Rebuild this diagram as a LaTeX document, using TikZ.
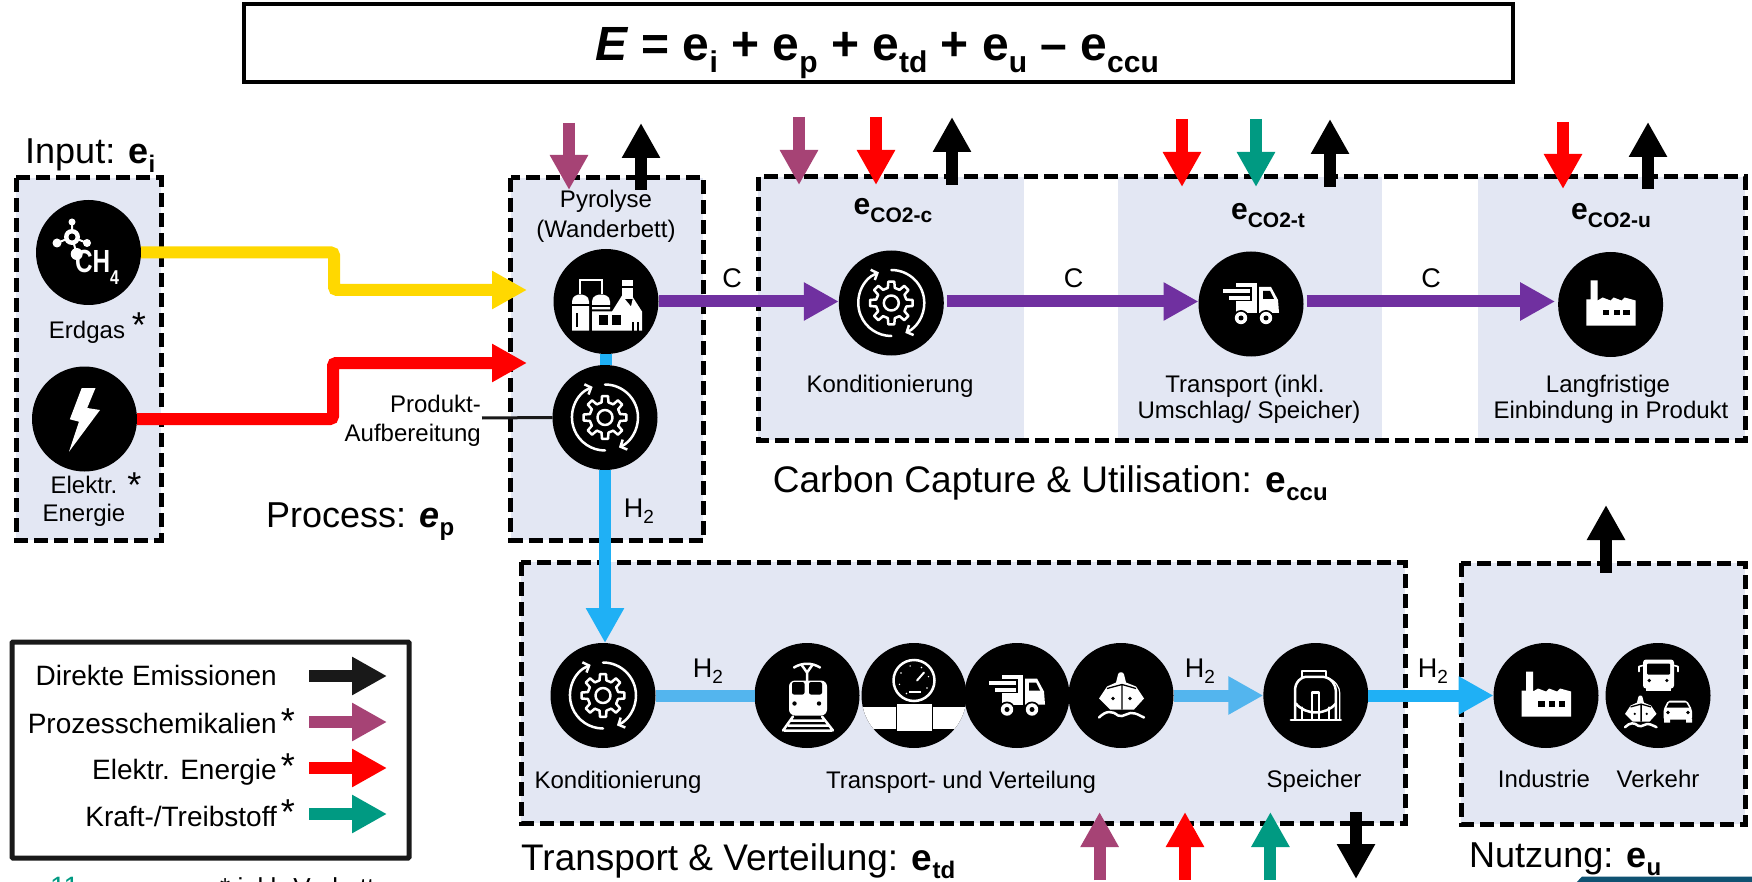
\documentclass[tikz,border=0pt]{standalone}
\usepackage{fontspec}
\setmainfont{Liberation Sans}
\usetikzlibrary{arrows.meta,calc}
\definecolor{patch}{HTML}{E3E7F3}
\definecolor{cgas}{HTML}{FFD800}
\definecolor{cmauve}{HTML}{A64375}
\definecolor{cviolet}{HTML}{7030A0}
\definecolor{cteal}{HTML}{009A82}
\definecolor{cblue}{HTML}{1FB0F5}
\definecolor{clight}{HTML}{53B5EE}
\definecolor{cdark}{HTML}{0F5272}
\newcommand\lowt[2]{\raisebox{-0.24em}{\fontsize{#1}{#1}\selectfont #2}}
\newcommand\fsz[1]{\fontsize{#1}{#1}\selectfont}
\newcommand\stub[5]{\coordinate (#1a) at (#3,#4);\coordinate (#1b) at (#3,#5);\draw[flow,#2] (#1a) -- (#1b);}
\newcommand\lstub[3]{\coordinate (#1a) at (309,#3);\coordinate (#1b) at (387,#3);\draw[flow,#2] (#1a) -- (#1b);}
\tikzset{
 flow/.style={line width=12pt,-{Triangle[length=35pt,width=36pt]}},
 pipe/.style={line width=12pt},
 dashbox/.style={draw=black,line width=5pt,dash pattern=on 14pt off 6pt},
 circ/.style={circle,fill=black,minimum size=105pt,inner sep=0pt,outer sep=0pt},
 lab/.style={font=\fsz{24},inner sep=0pt,anchor=base},
 hlab/.style={font=\fsz{27},inner sep=0pt,anchor=base},
 big/.style={font=\fsz{36},inner sep=0pt,anchor=base west},
 star/.style={font=\fsz{36},inner sep=0pt},
 leg/.style={font=\fsz{28},inner sep=0pt,anchor=base east},
 wl/.style={draw=white,line width=2.5pt,line cap=round,line join=round},
 pics/icongear/.style={code={
  \draw[wl] (-13:15.5pt) \foreach \a in {0,45,...,315}{ -- (\a-13:15.5pt) -- (\a-8:21.5pt) -- (\a+8:21.5pt) -- (\a+13:15.5pt)} -- cycle;
  \draw[wl] (0,0) circle[radius=7.5pt];
  \draw[wl,{Straight Barb[length=5pt,width=11pt]}-] (112:33pt) arc[start angle=112,end angle=270,radius=33pt];
  \draw[wl,-{Straight Barb[length=5pt,width=11pt]}] (90:33pt) arc[start angle=90,end angle=-65,radius=33pt];
 }},
 pics/iconplant/.style={code={
  \fill[white] (-34,29) -- (-34,0) .. controls (-34,-6) and (-28,-7) .. (-26,-7) .. controls (-23,-7) and (-17,-6) .. (-17,0) -- (-17,29) -- cycle;
  \fill[white] (-14,8) -- (-14,0) .. controls (-14,-6) and (-8,-7) .. (-5,-7) .. controls (-2,-7) and (4,-6) .. (4,0) -- (4,8) -- cycle;
  \draw[white,line width=2pt] (-26,-7) -- (-26,-21) -- (-4,-21) -- (-4,-7);
  \fill[white] (-14,10) -- (6,10) -- (16,-6) -- (25,5) -- (27,-4) -- (36,10) -- (36,29) -- (-14,29) -- cycle;
  \fill[white] (16,-21) rectangle (27,-2);
  \fill[black] (15,-15) rectangle (28,-13);
  \fill[black] (-15,4) rectangle (5,6);
  \fill[black] (-36,3) rectangle (-16,5);
  \fill[black] (-30,12) rectangle (-28,25);
  \fill[black] (-7,14) rectangle (2,23);
  \fill[black] (5.5,14) rectangle (14.7,23);
  \fill[black] (26,21) rectangle (27.5,29);
  \fill[black] (31,21) rectangle (32.5,29);
 }},
 pics/icontruck/.style={code={
  \fill[white] (-15,-21) rectangle (6,9);
  \fill[black] (-15,-17) rectangle (1,-3);
  \fill[white] (-28,-15) rectangle (-1,-11);
  \fill[white] (-22,-8) rectangle (-1,-4);
  \fill[white] (8,-17) -- (20,-17) -- (27,-4) -- (28,9) -- (8,9) -- cycle;
  \fill[black] (12,-13) -- (19,-13) -- (23,-5) -- (12,-5) -- cycle;
  \foreach \u in {-10,15}{
   \fill[black] (\u,14) circle[radius=8pt];
   \fill[white] (\u,14) circle[radius=6.2pt];
   \fill[black] (\u,14) circle[radius=2.5pt];}
 }},
 pics/iconfactory/.style={code={
  \fill[white] (-24.3,21) -- (-24.3,-5) -- (-20,-5) -- (-20,-24) -- (-13,-24) -- (-13,-4) -- (-8,-7) -- (0,-4) -- (3,-7) -- (11,-4) -- (14,-7) -- (25,-4) -- (25,21) -- cycle;
  \fill[black] (-8,5.5) rectangle (-1.5,11);
  \fill[black] (3,5.5) rectangle (9,11);
  \fill[black] (12.7,5.5) rectangle (19,11);
 }},
 pics/icontrain/.style={code={
  \fill[white,rounded corners=6pt] (-18,-15) rectangle (20,20);
  \fill[black,rounded corners=2pt] (-15,-13.5) rectangle (-2.5,-1);
  \fill[black,rounded corners=2pt] (2,-13.5) rectangle (15,-1);
  \fill[black] (-12.5,8) circle[radius=2.2pt] (12,8) circle[radius=2.2pt];
  \draw[wl] (-13,-28) .. controls (-5,-33) and (5,-33) .. (13,-28);
  \draw[wl] (-5,-30) -- (0,-23) -- (5,-30) (0,-23) -- (0,-15);
  \draw[wl] (-14,21) -- (-24,35) (15,21) -- (26,35) (-16,25) -- (17,25) (-19,30) -- (21,30) (-23,35) -- (25,35);
 }},
 pics/icongauge/.style={code={
  \begin{scope}
   \clip (0,0) circle[radius=52.5pt];
   \fill[white] (-60,11) rectangle (60,33);
  \end{scope}
  \draw[white,line width=2.5pt] (0,-15) circle[radius=20.5pt];
  \foreach \a in {-30,15,60,105,150,195,240}{\fill[white] ($(0,-15)+(\a:15pt)$) circle[radius=.8pt];}
  \draw[white,line width=2pt,line cap=round] (3,-15) -- (10,-23);
  \fill[white] (-5,-5) rectangle (7,-3);
  \draw[black,line width=1pt,fill=white] (-18,8) rectangle (18,36);
 }},
 pics/iconship/.style={code={
  \fill[white] (-3,-21) .. controls (-3,-24) and (3,-24) .. (3,-21) -- (5,-13) -- (15,-9) -- (23,3) -- (13,14) -- (-11,14) -- (-22,3) -- (-14,-9) -- (-5,-13) -- cycle;
  \draw[black,line width=1.3pt] (-14,-7) -- (1,-11) -- (15,-7) (1,-11) -- (1,14);
  \fill[black] (-8,3) circle[radius=1.8pt] (9,3) circle[radius=1.8pt];
  \draw[wl] (-22,22) .. controls (-15,15) and (-9,15) .. (-3,20) .. controls (2,23) and (8,15) .. (14,18) .. controls (18,19) and (20,21) .. (23,22);
 }},
 pics/icontank/.style={code={
  \draw[wl] (-13.7,-24.3) rectangle (10.2,-18.7);
  \draw[wl] (-20.8,24) -- (-20.8,-5) .. controls (-20.8,-14) and (-14,-18.7) .. (-10,-18.7) -- (7,-18.7) .. controls (16,-18) and (20,-10) .. (20,-5) -- (20,24);
  \draw[wl,line width=1.2pt] (11,-18) .. controls (20,-15) and (24,-8) .. (24,-2) -- (24,24);
  \draw[wl] (-20,8) .. controls (-10,20) and (10,20) .. (20,8);
  \draw[wl] (-4,24) -- (-4,-3) -- (3,-3) -- (3,24);
  \draw[wl] (-14,24) -- (-14,12) (13,24) -- (13,12);
  \draw[wl,line width=2.5pt] (-25,24.5) -- (25,24.5);
 }},
 pics/iconmix/.style={code={
  \fill[white,rounded corners=3pt] (-15,-36) rectangle (16,-7);
  \fill[white] (-12,-8) rectangle (13,-5);
  \fill[black,rounded corners=1pt] (-11,-32) rectangle (12,-21);
  \fill[black] (-8.8,-15) circle[radius=1.8pt] (8.8,-15) circle[radius=1.8pt];
  \draw[wl,line width=1.6pt] (-15,-30) -- (-19,-29) -- (-19,-24) (16,-30) -- (20,-29) -- (20,-24);
  \pic[scale=.7] at (-17.6,16.3) {iconship};
  \fill[white,rounded corners=2pt] (5.5,24) -- (5.5,14) -- (10,5) -- (29,5) -- (34,14) -- (34,24) -- cycle;
  \fill[white] (6,23) rectangle (12,27) (28,23) rectangle (34,27);
  \fill[black] (11,7) -- (28,7) -- (31,12) -- (8.5,12) -- cycle;
  \fill[black] (10,17) circle[radius=1.8pt] (30,17) circle[radius=1.8pt];
 }},
}
\begin{document}
\begin{tikzpicture}[x=1pt,y=-1pt]
\useasboundingbox (0,0) rectangle (1752,882);
\clip (0,0) rectangle (1752,882);
\fill[white] (0,0) rectangle (1752,882);
% dark shape bottom right
\fill[cdark] (1575,884) -- (1582,876.5) -- (1754,876.5) -- (1754,884) -- cycle;
% title
\node[draw=black,line width=3.5pt,minimum width=1269pt,minimum height=78pt,inner sep=0pt] (titlebox) at (878.5,43) {};
\node[font=\fsz{48}\bfseries,inner sep=0pt,anchor=base] (titletext) at (877,61) {\textit{E} = e\lowt{30}{i} + e\lowt{30}{p} + e\lowt{30}{td} + e\lowt{30}{u} – e\lowt{30}{ccu}};
% containers
\draw[dashbox,fill=patch] (16,178) rectangle (161,540);
\draw[dashbox,fill=patch] (510.5,178) rectangle (703,540);
\fill[patch] (758,177) rectangle (1024,440);
\fill[patch] (1118,177) rectangle (1382,440);
\fill[patch] (1478,177) rectangle (1745,440);
\draw[dashbox] (758,177) rectangle (1745,440);
\draw[dashbox,fill=patch] (521,562) rectangle (1405,823);
\draw[dashbox,fill=patch] (1461,563) rectangle (1745,824);
% legend box
\node[draw=black!90,line width=5pt,rounded corners=1pt,minimum width=397pt,minimum height=216pt,inner sep=0pt] (legendbox) at (210.5,750) {};
% circles
\node[circ] (ngas) at (88.5,252.5) {};
\node[circ] (power) at (84.5,419) {};
\node[circ] (plant) at (606,301.5) {};
\node[circ] (prep) at (605,417.5) {};
\node[circ] (ccond) at (891.3,303) {};
\node[circ] (ctruck) at (1251,304) {};
\node[circ] (cfact) at (1610.6,304.5) {};
\node[circ] (hcond) at (603,695.5) {};
\node[circ] (train) at (807,695.5) {};
\node[circ] (gauge) at (914,695.5) {};
\node[circ] (truck) at (1017,695.5) {};
\node[circ] (ship) at (1121,695.5) {};
\node[circ] (store) at (1315.8,695.5) {};
\node[circ] (indu) at (1546,695.5) {};
\node[circ] (traffic) at (1658,695.5) {};
% icons
\fill[white] (57,243) circle[radius=4.5pt] (87,243) circle[radius=4pt] (72,222) circle[radius=3.5pt] (76.7,254) circle[radius=6pt];
\draw[white,line width=2pt] (72,222) -- (72,237) (57,243) -- (72,237) -- (87,243) (72,237) -- (76.7,254);
\fill[white] (72,237) circle[radius=8pt];
\fill[black] (72,237) circle[radius=3.5pt];
\node[font=\fsz{32}\bfseries,text=white,inner sep=0pt,anchor=base west,xscale=.76] (chtxt) at (75,273) {CH};
\node[font=\fsz{20}\bfseries,text=white,inner sep=0pt,anchor=base west,xscale=.8] (fourtxt) at (110,285) {4};
\fill[white] (81.7,388) -- (95.5,388) -- (87.2,408) -- (100,410) -- (69,451.7) -- (79,421.7) -- (69.8,419.3) -- cycle;
\pic at (plant) {iconplant};
\pic at (prep) {icongear};
\pic at (ccond) {icongear};
\pic at (ctruck) {icontruck};
\pic at (cfact) {iconfactory};
\pic at (hcond) {icongear};
\pic at (train) {icontrain};
\pic at (gauge) {icongauge};
\pic at (truck) {icontruck};
\pic at (ship) {iconship};
\pic at (store) {icontank};
\pic at (indu) {iconfactory};
\pic at (traffic) {iconmix};
% main flows
\coordinate (gasin) at (527,290);
\coordinate (gasa) at (334,252.5);
\coordinate (gasb) at (334,290);
\draw[flow,cgas,rounded corners=3pt] (ngas.east) -- (gasa) -- (gasb) -- (gasin);
\coordinate (powin) at (527,363);
\coordinate (powa) at (333,419);
\coordinate (powb) at (333,363);
\draw[flow,red,rounded corners=3pt] (power.east) -- (powa) -- (powb) -- (powin);
\draw[flow,cviolet] (plant.east) -- (ccond.west |- plant.east);
\draw[flow,cviolet] (ccond.east |- plant.east) ++(3,0) -- (ctruck.west |- plant.east);
\draw[flow,cviolet,shorten >=3pt] (ctruck.east |- plant.east) ++(3,0) -- (cfact.west |- plant.east);
\draw[pipe,cblue] (plant.south) -- (prep.north -| plant.south);
\draw[flow,cblue] (prep.south) -- (hcond.north -| prep.south);
\draw[pipe,clight] (hcond.east) -- (train.west);
\draw[flow,clight] (ship.east) -- (store.west);
\draw[flow,cblue] (store.east) -- (indu.west);
\coordinate (prodlab) at (482,418);
\draw[line width=3pt,black!90] (prodlab) -- (prep.west);
% input/output stubs
\stub{s1}{cmauve}{569}{123}{190}
\stub{s2}{black}{641}{190}{123}
\stub{s3}{cmauve}{799}{117}{185}
\stub{s4}{red}{876}{117}{185}
\stub{s5}{black}{952}{185}{117}
\stub{s6}{red}{1182}{119}{187}
\stub{s7}{cteal}{1256}{119}{187}
\stub{s8}{black}{1330}{187}{119}
\stub{s9}{red}{1563}{122}{189}
\stub{s10}{black}{1648}{189}{122}
\stub{s11}{black}{1606}{572.7}{505}
\stub{s12}{cmauve}{1099.6}{880}{812}
\stub{s13}{red}{1185}{880}{812}
\stub{s14}{cteal}{1270.4}{880}{812}
\stub{s15}{black}{1356}{812}{879}
% legend arrows
\lstub{l1}{black!90}{676}
\lstub{l2}{cmauve}{722}
\lstub{l3}{red}{768}
\lstub{l4}{cteal}{814}
% big labels
\node[big] (tinput) at (25,164) {Input: \textbf{e}\lowt{24}{\textbf{i}}};
\node[big] (tproc) at (266,527) {Process: \textbf{\textit{e}}\lowt{24}{\textbf{p}}};
\node[big,font=\fsz{37}] (tccu) at (772.7,492) {Carbon Capture \& Utilisation: \textbf{e}\lowt{24}{\textbf{ccu}}};
\node[big,font=\fsz{37}] (ttd) at (521,870) {Transport \& Verteilung: \textbf{e}\lowt{24}{\textbf{td}}};
\node[big] (tuse) at (1469,867) {Nutzung: \textbf{e}\lowt{24}{\textbf{u}}};
% small labels
\node[lab] (terd) at (87,338) {Erdgas};
\node[star] (sa) at (139,325) {*};
\node[lab] (tel1) at (84,493) {Elektr.};
\node[lab] (tel2) at (84,521) {Energie};
\node[star] (sb) at (134.5,485) {*};
\node[lab] (tpy1) at (606,208) {Pyrolyse};
\node[lab] (tpy2) at (606,238) {(Wanderbett)};
\node[lab,anchor=base east] (tpa) at (481,412) {Produkt-};
\node[lab,anchor=base east] (tpb) at (481,441) {Aufbereitung};
\node[hlab] (th1) at (639,517) {H\lowt{19}{2}};
\node[hlab] (tc1) at (732,288) {C};
\node[hlab] (tc2) at (1073.5,288) {C};
\node[hlab] (tc3) at (1431,288) {C};
\node[font=\fsz{30}\bfseries,inner sep=0pt,anchor=base] (ec) at (893,215) {e\lowt{21}{CO2-c}};
\node[font=\fsz{30}\bfseries,inner sep=0pt,anchor=base] (et) at (1268,220) {e\lowt{21}{CO2-t}};
\node[font=\fsz{30}\bfseries,inner sep=0pt,anchor=base] (eu) at (1611,220) {e\lowt{21}{CO2-u}};
\node[lab] (tk1) at (890,392) {Konditionierung};
\node[lab] (tt1) at (1245,392) {Transport (inkl.};
\node[lab] (tt2) at (1249,418) {Umschlag/ Speicher)};
\node[lab] (tl1) at (1608,392) {Langfristige};
\node[lab] (tl2) at (1611,418) {Einbindung in Produkt};
\node[hlab] (th2) at (708,677) {H\lowt{19}{2}};
\node[hlab] (th3) at (1200,677) {H\lowt{19}{2}};
\node[hlab] (th4) at (1433,677) {H\lowt{19}{2}};
\node[lab] (tk2) at (618,788) {Konditionierung};
\node[lab] (ttv) at (961,788) {Transport- und Verteilung};
\node[lab] (tsp) at (1314,787) {Speicher};
\node[lab] (tin) at (1544,787) {Industrie};
\node[lab] (tve) at (1658,787) {Verkehr};
% legend text
\node[leg] (la) at (277,685.7) {Direkte Emissionen};
\node[leg] (lb) at (277,733) {Prozesschemikalien};
\node[leg] (lc) at (277,779) {Elektr. Energie};
\node[leg] (ld) at (277,826) {Kraft-/Treibstoff};
\node[star] (sc) at (288,721) {*};
\node[star] (sd) at (288,766) {*};
\node[star] (se) at (288,812) {*};
% clipped footer
\node[font=\fsz{28},text=cteal,inner sep=0pt,anchor=base west] (fnum) at (50,896) {11};
\node[font=\fsz{26},inner sep=0pt,anchor=base west] (fnote) at (220,896) {* inkl. Vorkette};
\end{tikzpicture}
\end{document}
